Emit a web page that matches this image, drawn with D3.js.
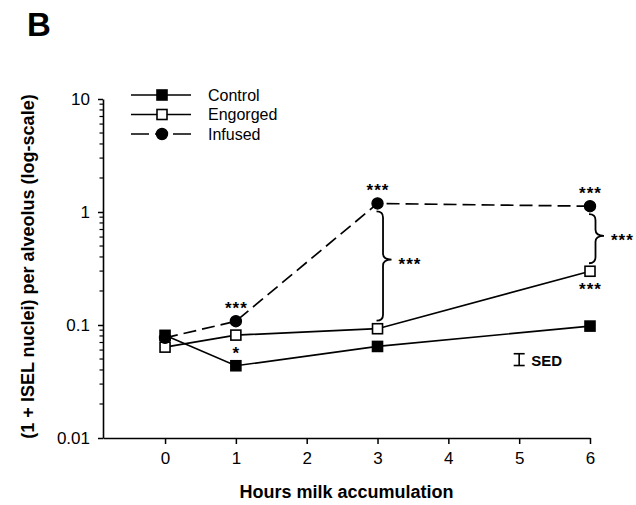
<!DOCTYPE html>
<html>
<head>
<meta charset="utf-8">
<script src="https://cdnjs.cloudflare.com/ajax/libs/d3/7.8.5/d3.min.js"></script>
<style>
  body { margin: 0; background: #fff; }
  svg { display: block; font-family: "Liberation Sans", Arial, sans-serif; }
</style>
</head>
<body>
<div class="canva"></div>
<script>
// data
const hours = [0, 1, 3, 6];
const control = [0.081, 0.0436, 0.0646, 0.0978];
const engorged = [0.0637, 0.0814, 0.0927, 0.299];
const infused = [0.0769, 0.108, 1.19, 1.125];

const xTicks = [0, 1, 2, 3, 4, 5, 6];
const yMajor = [0.01, 0.1, 1, 10];
const yLabels = ["0.01", "0.1", "1", "10"];

// SED bar
const sedHour = 5;
const sedLow = 0.0438, sedHigh = 0.0557;

// significance marks
const pointStars = [
  {hour: 1, series: "Infused", text: "***", side: "above"},
  {hour: 1, series: "Engorged", text: "*", side: "below"},
  {hour: 3, series: "Infused", text: "***", side: "above"},
  {hour: 6, series: "Infused", text: "***", side: "above"},
  {hour: 6, series: "Engorged", text: "***", side: "below"}
];
const braceStars = [
  {hour: 3, top: "Infused", bottom: "Engorged", text: "***"},
  {hour: 6, top: "Infused", bottom: "Engorged", text: "***"}
];

const series = [
  {name: "Control", values: control, shape: "square", fill: "#000", dash: null},
  {name: "Engorged", values: engorged, shape: "square", fill: "#fff", dash: null},
  {name: "Infused", values: infused, shape: "circle", fill: "#000", dash: "13,6"}
];
const byName = {};
series.forEach(s => byName[s.name] = s);

const svg = d3.select(".canva").append("svg")
  .attr("width", 636)
  .attr("height", 505);

const x = d3.scaleLinear().domain([-0.876, 6]).range([103, 590]);
const y = d3.scaleLog().domain([0.01, 10]).range([438, 99]);

// panel letter
svg.append("text")
  .attr("x", 27).attr("y", 36)
  .attr("font-size", 33).attr("font-weight", "bold")
  .text("B");

// x axis
const xAxis = svg.append("g")
  .attr("transform", `translate(0, ${y(0.01)})`)
  .call(d3.axisBottom(x).tickValues(xTicks).tickFormat(d3.format("d")).tickSize(6).tickSizeOuter(0));
xAxis.select(".domain").attr("stroke-width", 1.6);
xAxis.selectAll(".tick line").attr("stroke-width", 1.5);
xAxis.selectAll(".tick text").attr("font-size", 17).attr("dy", "1.0em").attr("fill", "#000")
  .attr("font-family", "Liberation Sans, Arial, sans-serif");

// y axis (major + minor)
const yAxis = svg.append("g")
  .attr("transform", `translate(${x.range()[0]}, 0)`)
  .call(d3.axisLeft(y).tickValues(yMajor).tickFormat((d, i) => yLabels[i]).tickSize(5).tickSizeOuter(0).tickPadding(8));
yAxis.select(".domain").attr("stroke-width", 1.6);
yAxis.selectAll(".tick line").attr("stroke-width", 1.5);
yAxis.selectAll(".tick text").attr("font-size", 17).attr("fill", "#000")
  .attr("font-family", "Liberation Sans, Arial, sans-serif");

const minor = y.ticks().filter(t => !yMajor.includes(t));
svg.append("g").selectAll("line")
  .data(minor)
  .enter().append("line")
  .attr("x1", x.range()[0] - 3.5).attr("x2", x.range()[0])
  .attr("y1", d => y(d)).attr("y2", d => y(d))
  .attr("stroke", "#000").attr("stroke-width", 1.2);

// axis titles
svg.append("text")
  .attr("x", (x.range()[0] + x.range()[1]) / 2).attr("y", 498)
  .attr("text-anchor", "middle")
  .attr("font-size", 18).attr("font-weight", "bold")
  .text("Hours milk accumulation");

svg.append("text")
  .attr("transform", `translate(34, ${(y(10) + y(0.01)) / 2 - 2}) rotate(-90)`)
  .attr("text-anchor", "middle")
  .attr("font-size", 18).attr("font-weight", "bold")
  .text("(1 + ISEL nuclei) per alveolus (log-scale)");

// lines
const line = d3.line()
  .x((d, i) => x(hours[i]))
  .y(d => y(d));

svg.append("g").selectAll("path")
  .data(series)
  .enter().append("path")
  .attr("d", d => line(d.values))
  .attr("fill", "none")
  .attr("stroke", "#000")
  .attr("stroke-width", 1.7)
  .attr("stroke-dasharray", d => d.dash);

// markers
function drawMarker(g, shape, fill, cx, cy) {
  if (shape === "circle") {
    g.append("circle").attr("cx", cx).attr("cy", cy).attr("r", 5.6)
      .attr("fill", fill).attr("stroke", "#000").attr("stroke-width", 1.2);
  } else {
    g.append("rect").attr("x", cx - 5).attr("y", cy - 5).attr("width", 10).attr("height", 10)
      .attr("fill", fill).attr("stroke", "#000").attr("stroke-width", 1.6);
  }
}

const marks = svg.append("g");
series.forEach(s => {
  s.values.forEach((v, i) => drawMarker(marks, s.shape, s.fill, x(hours[i]), y(v)));
});

// stars next to points
pointStars.forEach(a => {
  const s = byName[a.series];
  const v = s.values[hours.indexOf(a.hour)];
  svg.append("text")
    .attr("x", x(a.hour) + 0.5).attr("y", y(v) + (a.side === "above" ? -7 : 24))
    .attr("text-anchor", "middle")
    .attr("font-size", 17).attr("font-weight", "bold").attr("letter-spacing", 1)
    .text(a.text);
});

// braces between series
function bracePath(x0, x1, x2, y1, y2, f) {
  const ym = y1 + (y2 - y1) * f;
  const r = Math.min(6, (y2 - y1) / 5);
  return `M${x0},${y1} Q${x1},${y1} ${x1},${y1 + r} L${x1},${ym - r} Q${x1},${ym} ${x2},${ym}` +
    ` Q${x1},${ym} ${x1},${ym + r} L${x1},${y2 - r} Q${x1},${y2} ${x0},${y2}`;
}

braceStars.forEach(b => {
  const i = hours.indexOf(b.hour);
  const px = x(b.hour);
  const yTop = y(byName[b.top].values[i]) + 8;
  const yBot = y(byName[b.bottom].values[i]) - 8;
  const tipX = px + 14;
  const tipY = yTop + (yBot - yTop) * 0.44;
  svg.append("path")
    .attr("d", bracePath(px - 1, px + 5.5, tipX, yTop, yBot, 0.44))
    .attr("fill", "none").attr("stroke", "#000").attr("stroke-width", 1.8);
  svg.append("text")
    .attr("x", tipX + 7).attr("y", tipY + 10)
    .attr("font-size", 17).attr("font-weight", "bold").attr("letter-spacing", 1)
    .text(b.text);
});

// SED bar
const sed = svg.append("g");
sed.append("line")
  .attr("x1", x(sedHour)).attr("x2", x(sedHour))
  .attr("y1", y(sedHigh)).attr("y2", y(sedLow))
  .attr("stroke", "#000").attr("stroke-width", 1.6);
[sedHigh, sedLow].forEach(v => {
  sed.append("line")
    .attr("x1", x(sedHour) - 5.5).attr("x2", x(sedHour) + 5.5)
    .attr("y1", y(v)).attr("y2", y(v))
    .attr("stroke", "#000").attr("stroke-width", 1.6);
});
sed.append("text")
  .attr("x", x(sedHour) + 12).attr("y", y(sedLow))
  .attr("font-size", 15).attr("font-weight", "bold")
  .text("SED");

// legend
const legend = svg.append("g").attr("transform", "translate(131, 95)");
series.forEach((s, i) => {
  const row = legend.append("g").attr("transform", `translate(0, ${i * 19.5})`);
  row.append("line")
    .attr("x1", 0).attr("x2", 60).attr("y1", 0).attr("y2", 0)
    .attr("stroke", "#000").attr("stroke-width", 1.7)
    .attr("stroke-dasharray", s.dash ? "18,6,12,6,18" : null);
  drawMarker(row, s.shape, s.fill, 31, 0);
  row.append("text")
    .attr("x", 77).attr("y", 5.5)
    .attr("font-size", 16)
    .text(s.name);
});
</script>
</body>
</html>
